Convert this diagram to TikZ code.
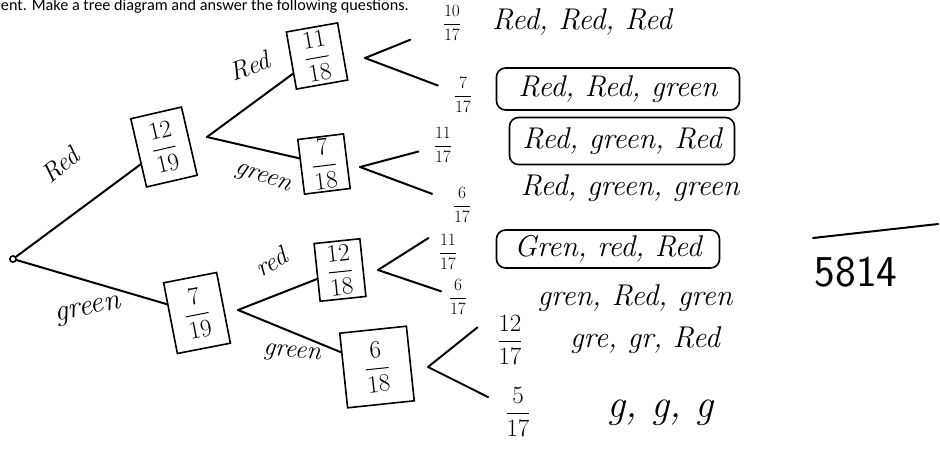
\documentclass[tikz,border=0pt]{standalone}
\usepackage{amsmath}
\usepackage{fontspec}
\usepackage{tikz}
\newfontfamily\printfont{Carlito}
\usetikzlibrary{positioning}
\newcommand{\hfr}[2]{$\dfrac{#1}{#2}$}

\begin{document}
\begin{tikzpicture}[x=1pt,y=-1pt,line width=2pt,line cap=round,
    probbox/.style={draw,line width=1.6pt,font=\fontsize{24}{26}\selectfont,inner sep=1pt},
    frac/.style={font=\fontsize{17}{19}\selectfont,inner sep=1pt},
    bigfrac/.style={font=\fontsize{24}{26}\selectfont,inner sep=1pt},
    hand/.style={font=\fontsize{30}{32}\selectfont\itshape,inner sep=2pt},
    lab/.style={font=\fontsize{26}{28}\selectfont\itshape,inner sep=1pt},
    pick/.style={draw,rounded corners=9pt,line width=1.6pt}]
    \fill[white] (0,0) rectangle (940,456);
    \clip (0,0) rectangle (940,456);
    \node[font=\printfont\fontsize{16.2}{18}\selectfont,anchor=base west,inner sep=0pt]
      (head) at (0,10) {ent. Make a tree diagram and answer the following questions.};

    \node[circle,draw,inner sep=2.2pt,line width=1.6pt](root) at (13,259){};
    \node[probbox,rotate=13,minimum width=52pt,minimum height=70pt](b1) at (164,147){\hfr{12}{19}};
    \node[probbox,rotate=11,minimum width=54pt,minimum height=72pt](b2) at (197,313){\hfr{7}{19}};
    \node[probbox,rotate=10,minimum width=52pt,minimum height=58pt](b11) at (317,56){\hfr{11}{18}};
    \node[probbox,rotate=7,minimum width=46pt,minimum height=55pt](b12) at (324,164){\hfr{7}{18}};
    \node[probbox,rotate=6,minimum width=46pt,minimum height=58pt](b21) at (340,270){\hfr{12}{18}};
    \node[probbox,rotate=6,minimum width=67pt,minimum height=75pt,font=\fontsize{28}{30}\selectfont](b22) at (377,367){\hfr{6}{18}};

    \coordinate (s1) at (207,137);
    \coordinate (s2) at (238,310);
    \coordinate (s11) at (365,58);
    \coordinate (s12) at (360,167);
    \coordinate (s21) at (378,270);
    \coordinate (s22) at (428,367);

    \node[frac](p1) at (452,23){\hfr{10}{17}};
    \node[frac](p2) at (463,95){\hfr{7}{17}};
    \node[frac](p3) at (443,145){\hfr{11}{17}};
    \node[frac](p4) at (462,205){\hfr{6}{17}};
    \node[frac](p5) at (448,252){\hfr{11}{17}};
    \node[frac](p6) at (458,297){\hfr{6}{17}};
    \node[bigfrac](p7) at (510,340){\hfr{12}{17}};
    \node[bigfrac](p8) at (518,412){\hfr{5}{17}};

    \node[hand](o1) at (582,22){Red, Red, Red};
    \node[hand,pick,minimum width=243pt,minimum height=42pt](o2) at (618,89){Red, Red, green};
    \node[hand,pick,minimum width=225pt,minimum height=47pt](o3) at (622,141){Red, green, Red};
    \node[hand](o4) at (630,188){Red, green, green};
    \node[hand,pick,minimum width=223pt,minimum height=38pt](o5) at (608,249){Gren, red, Red};
    \node[hand](o6) at (635,298){gren, Red, gren};
    \node[hand](o7) at (645,340){gre, gr, Red};
    \node[hand,font=\fontsize{40}{42}\selectfont\itshape](o8) at (660,413){g, g, g};

    \node[lab,rotate=40](l1) at (60,165){Red};
    \node[lab,rotate=12,font=\fontsize{30}{32}\selectfont\itshape](l2) at (88,311){green};
    \node[lab,rotate=20](l11) at (250,66){Red};
    \node[lab,rotate=-20](l12) at (263,179){green};
    \node[lab,rotate=30](l21) at (271,262){red};
    \node[lab,rotate=-5](l22) at (292,354){green};

    \draw (root) -- (b1);
    \draw (root) -- (b2);
    \draw (s1) -- (b11);
    \draw (s1) -- (b12);
    \draw (s2) -- (b21);
    \draw (s2) -- (b22);

    \draw[shorten >=33pt] (s11) -- (p1);
    \draw[shorten >=15pt] (s11) -- (p2);
    \draw[shorten >=14pt] (s12) -- (p3);
    \draw[shorten >=20pt] (s12) -- (p4);
    \draw[shorten >=10pt] (s21) -- (p5.north west);
    \draw[shorten >=6pt] (s21) -- (p6);
    \draw[shorten >=23pt] (s22) -- (p7.north west);
    \draw[shorten >=17pt] (s22) -- (p8);

    \node[font=\sffamily\fontsize{44}{46}\selectfont,inner sep=0pt](ans) at (856,272){5814};
    \coordinate (r1) at (813,238);
    \coordinate (r2) at (938,224);
    \draw (r1) -- (r2);
  \end{tikzpicture}
\end{document}
